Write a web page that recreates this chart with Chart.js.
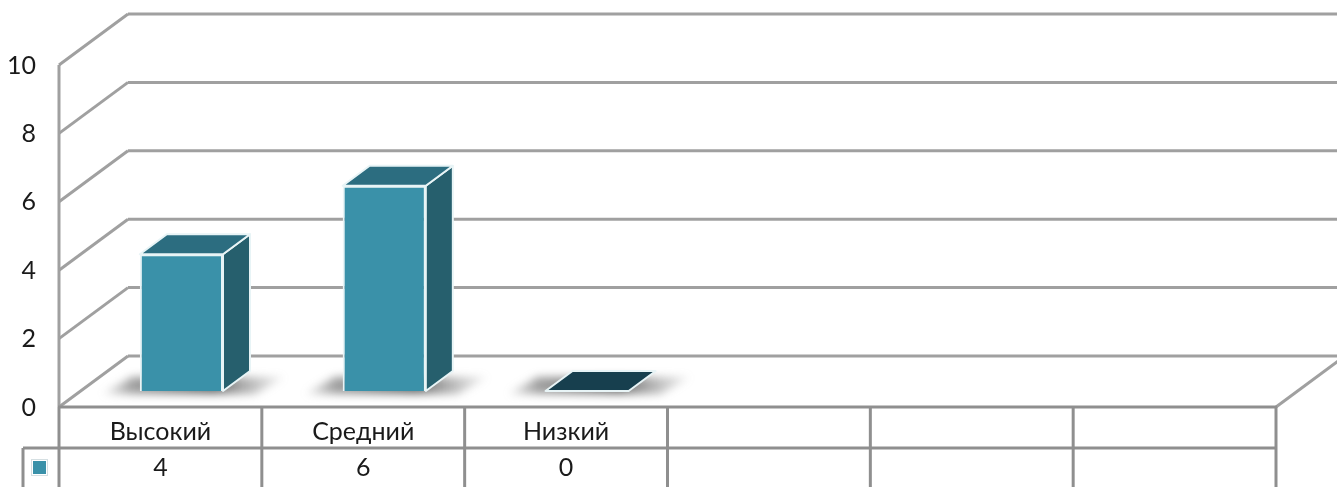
<!DOCTYPE html>
<html><head><meta charset="utf-8">
<style>html,body{margin:0;padding:0;background:#fff;overflow:hidden}#w{width:1337px;height:487px}</style>
<script src="https://cdn.jsdelivr.net/npm/chart.js@4"></script>
</head><body><div id="w"><canvas id="c"></canvas></div>
<script>
const categories = ["Высокий", "Средний", "Низкий", "", "", ""];
const values = [4, 6, 0, null, null, null];
const yTicks = [0, 2, 4, 6, 8, 10];

const FONT = 'Lato, "Open Sans", sans-serif';
const GRID = '#a0a0a0', CELL = '#8f8f8f';
const WALL = {dx: 69, dy: -51};       // floor depth of the 3D box
const SHIFT = {dx: 21, dy: -16};      // bar front plane within the floor
const DEPTH = {dx: 27, dy: -20};      // bar depth
const C = {front: '#3a91a9', side: '#265f6d', top: '#2c6d80', zero: '#173f4e', edge: '#e8f4f6'};

function poly(ctx, pts) {
  ctx.beginPath();
  pts.forEach((p, i) => i ? ctx.lineTo(p[0], p[1]) : ctx.moveTo(p[0], p[1]));
  ctx.closePath();
}
function seg(ctx, x1, y1, x2, y2) { ctx.beginPath(); ctx.moveTo(x1, y1); ctx.lineTo(x2, y2); ctx.stroke(); }

const box3d = {
  id: 'box3d',
  beforeDatasetsDraw(chart) {
    const {ctx, scales: {x, y}} = chart;
    const w = chart.chartArea, right = w.right, left = w.left;
    ctx.save();
    // walls and floor grid
    ctx.strokeStyle = GRID; ctx.lineWidth = 3;
    yTicks.forEach(t => {
      const py = y.getPixelForValue(t);
      seg(ctx, left, py, left + WALL.dx, py + WALL.dy);
      seg(ctx, left + WALL.dx, py + WALL.dy, right + WALL.dx, py + WALL.dy);
    });
    seg(ctx, left, y.getPixelForValue(10), left, y.getPixelForValue(0));
    seg(ctx, right, y.getPixelForValue(0), right + WALL.dx, y.getPixelForValue(0) + WALL.dy);
    // floor shadows
    const meta = chart.getDatasetMeta(0);
    meta.data.forEach((b, i) => {
      if (values[i] === null) return;
      const half = b.width / 2, l = b.x + SHIFT.dx - half, r = b.x + SHIFT.dx + half, by = b.base + SHIFT.dy;
      ctx.save();
      ctx.filter = 'blur(4px)';
      const g = ctx.createLinearGradient(l - 42, 0, r + 68, 0);
      g.addColorStop(0, 'rgba(110,110,110,0)');
      g.addColorStop(0.18, 'rgba(110,110,110,.65)');
      g.addColorStop(0.6, 'rgba(80,80,80,.85)');
      g.addColorStop(0.82, 'rgba(110,110,110,.4)');
      g.addColorStop(1, 'rgba(110,110,110,0)');
      ctx.fillStyle = g;
      poly(ctx, [[l - 38, by + 3], [r + 32, by + 3], [r + 62, by - 14], [l - 8, by - 14]]);
      ctx.fill();
      ctx.restore();
    });
    // data table
    const base = y.getPixelForValue(0), step = (right - left) / categories.length;
    const rowY = base + 41;
    ctx.strokeStyle = CELL; ctx.lineWidth = 3;
    seg(ctx, left - 1, base, right + 1, base);
    seg(ctx, left - 36, rowY, right + 1, rowY);
    categories.forEach((_, i) => {
      const cx = x.getPixelForValue(i);
      seg(ctx, cx - step / 2, base, cx - step / 2, 490);
      if (i === categories.length - 1) seg(ctx, cx + step / 2, base, cx + step / 2, 490);
    });
    seg(ctx, left - 36, rowY, left - 36, 490);
    // legend key in the table
    ctx.fillStyle = '#fff'; ctx.strokeStyle = '#d5dfe2'; ctx.lineWidth = 1;
    ctx.fillRect(31.5, 459.5, 16, 16); ctx.strokeRect(31.5, 459.5, 16, 16);
    ctx.fillStyle = C.front; ctx.fillRect(33, 461, 13, 13);
    ctx.restore();
  },
  beforeDatasetDraw(chart, args) {
    const {ctx} = chart;
    ctx.save();
    ctx.translate(SHIFT.dx, SHIFT.dy);
    ctx.lineJoin = 'round';
    ctx.strokeStyle = C.edge; ctx.lineWidth = 2;
    args.meta.data.forEach((b, i) => {
      if (values[i] === null) return;
      const half = b.width / 2, l = b.x - half, r = b.x + half, t = b.y, bt = b.base;
      if (values[i] > 0) {
        ctx.fillStyle = C.side;
        poly(ctx, [[r, t], [r + DEPTH.dx, t + DEPTH.dy], [r + DEPTH.dx, bt + DEPTH.dy], [r, bt]]);
        ctx.fill(); ctx.stroke();
      }
      ctx.fillStyle = values[i] > 0 ? C.top : C.zero;
      poly(ctx, [[l, t], [r, t], [r + DEPTH.dx, t + DEPTH.dy], [l + DEPTH.dx, t + DEPTH.dy]]);
      ctx.fill(); ctx.stroke();
    });
  },
  afterDatasetDraw(chart) { chart.ctx.restore(); }
};

new Chart(document.getElementById('c'), {
  type: 'bar',
  data: {
    labels: categories,
    datasets: [{
      data: values,
      backgroundColor: C.front,
      borderColor: C.edge,
      borderWidth: 2,
      categoryPercentage: 1,
      barPercentage: 0.41
    }]
  },
  plugins: [box3d],
  options: {
    responsive: true,
    maintainAspectRatio: false,
    animation: false,
    layout: {padding: {top: 65, right: 61, left: 0, bottom: 0}},
    plugins: {legend: {display: false}, tooltip: {enabled: false}},
    scales: {
      x: {
        grid: {display: false},
        border: {display: false},
        afterFit(s) { s.height = 80; },
        ticks: {
          autoSkip: false, maxRotation: 0, padding: -1, color: '#1a1a1a',
          font: {family: FONT, size: 25, lineHeight: 36 / 25},
          callback(v, i) { return categories[i] ? [categories[i], String(values[i])] : ''; }
        }
      },
      y: {
        min: 0, max: 10,
        grid: {display: false},
        border: {display: false},
        afterFit(s) { s.width = 59; },
        ticks: {
          stepSize: 2, padding: 15, color: '#1a1a1a', labelOffset: 0.5,
          font: {family: FONT, size: 25}
        }
      }
    }
  }
});
</script></body></html>
